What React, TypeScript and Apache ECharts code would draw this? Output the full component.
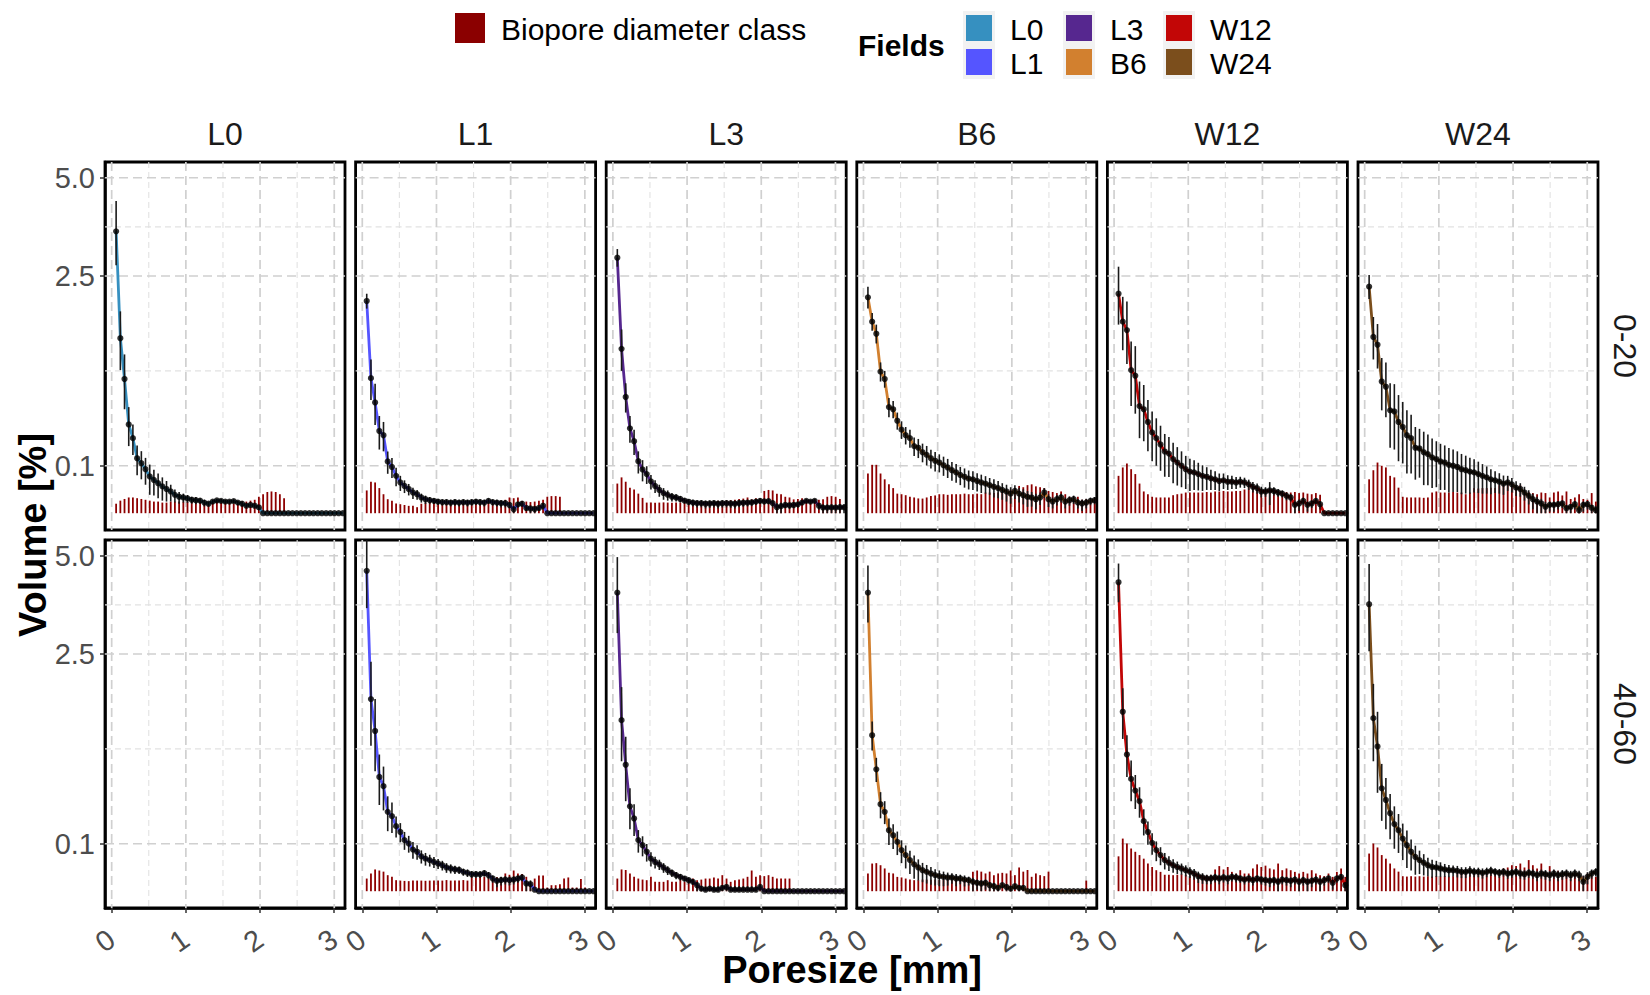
import React, { useEffect, useRef } from "react";
import * as echarts from "echarts";

// ---------- categories / ticks ----------
const fields = ["L0", "L1", "L3", "B6", "W12", "W24"];
const depths = ["0-20", "40-60"];
const fieldColors = ["#3690C0", "#5555FF", "#56278F", "#D2802F", "#C20606", "#7B4E1C"];
const yMajorBreaks = [0.1, 2.5, 5.0];
const xMajorBreaks = [0, 1, 2, 3];
const xMinorBreaks = [0.5, 1.5, 2.5];

// pore size classes [mm]
const poreSize = [
  0.060, 0.117, 0.173, 0.230, 0.286, 0.343, 0.400, 0.456, 0.513, 0.569,
  0.626, 0.683, 0.739, 0.796, 0.852, 0.909, 0.966, 1.022, 1.079, 1.135,
  1.192, 1.249, 1.305, 1.362, 1.418, 1.475, 1.532, 1.588, 1.645, 1.701,
  1.758, 1.815, 1.871, 1.928, 1.984, 2.041, 2.098, 2.154, 2.211, 2.267,
  2.324, 2.381, 2.437, 2.494, 2.550, 2.607, 2.664, 2.720, 2.777, 2.833,
  2.890, 2.947, 3.003, 3.060, 3.116,
];

// ---------- depth 0-20 ----------
const meanL0_0_20 = [
  3.53, 1.36, 0.80, 0.35, 0.25, 0.134, 0.111, 0.086, 0.060, 0.049,
  0.040, 0.032, 0.026, 0.021, 0.015, 0.012, 0.011, 0.0097, 0.008, 0.0075,
  0.007, 0.005, 0.004, 0.006, 0.0072, 0.0068, 0.006, 0.006, 0.0065, 0.005,
  0.004, 0.0025, 0.003, 0.0025, 0.0015, 0, 0, 0, 0, 0,
  0, 0, 0, 0, 0, 0, 0, 0, 0, 0,
  0, 0, 0, 0, 0,
];
const errL0_0_20 = [
  0.8, 0.45, 0.32, 0.15, 0.1, 0.07, 0.06, 0.05, 0.045, 0.035,
  0.03, 0.025, 0.02, 0.015, 0.01, 0.008, 0.006, 0.005, 0.004, 0.004,
  0.003, 0.003, 0.002, 0.002, 0.002, 0.002, 0.002, 0.002, 0.002, 0.002,
  0.002, 0.001, 0.001, 0.001, 0.001, 0, 0, 0, 0, 0,
  0, 0, 0, 0, 0, 0, 0, 0, 0, 0,
  0, 0, 0, 0, 0,
];
const bioL0_0_20 = [
  0.004, 0.007, 0.009, 0.011, 0.011, 0.01, 0.009, 0.008, 0.007, 0.006,
  0.006, 0.005, 0.005, 0.006, 0.006, 0.006, 0.006, 0.006, 0.006, 0.005,
  0.006, 0.006, 0.005, 0.005, 0.006, 0.005, 0.006, 0.005, 0.004, 0.005,
  0.006, 0.006, 0.007, 0.008, 0.012, 0.016, 0.02, 0.021, 0.02, 0.016,
  0.01, 0, 0, 0, 0, 0, 0, 0, 0, 0,
  0, 0, 0, 0, 0,
];

const meanL1_0_20 = [
  2.0, 0.81, 0.545, 0.3, 0.27, 0.119, 0.095, 0.062, 0.042, 0.033,
  0.026, 0.019, 0.016, 0.011, 0.0087, 0.0076, 0.0068, 0.006, 0.0055, 0.0055,
  0.005, 0.0055, 0.005, 0.0055, 0.005, 0.0055, 0.006, 0.0055, 0.005, 0.0068,
  0.0055, 0.005, 0.0045, 0.0045, 0.003, 0.0007, 0.0035, 0.004, 0.0012, 0.001,
  0.0008, 0.0012, 0.0025, 0, 0, 0, 0, 0, 0, 0,
  0, 0, 0, 0, 0,
];
const errL1_0_20 = [
  0.14, 0.24, 0.2, 0.12, 0.1, 0.05, 0.04, 0.03, 0.02, 0.015,
  0.012, 0.01, 0.008, 0.006, 0.005, 0.004, 0.003, 0.003, 0.003, 0.003,
  0.003, 0.003, 0.003, 0.003, 0.003, 0.003, 0.003, 0.003, 0.003, 0.003,
  0.003, 0.003, 0.003, 0.003, 0.002, 0.001, 0.002, 0.002, 0.001, 0.001,
  0.001, 0.001, 0.002, 0, 0, 0, 0, 0, 0, 0,
  0, 0, 0, 0, 0,
];
const bioL1_0_20 = [
  0.023, 0.044, 0.042, 0.028, 0.016, 0.0087, 0.0068, 0.0042, 0.0036, 0.003,
  0.0024, 0.0024, 0.0016, 0.004, 0.005, 0.006, 0.006, 0.0055, 0.006, 0.006,
  0.0055, 0.006, 0.006, 0.0055, 0.006, 0.006, 0.0065, 0.006, 0.0065, 0.0065,
  0.007, 0.0065, 0.007, 0.008, 0.011, 0.01, 0.011, 0.0065, 0.006, 0.0055,
  0.006, 0.007, 0.008, 0.012, 0.013, 0.013, 0.012, 0, 0, 0,
  0, 0, 0, 0, 0,
];

const meanL3_0_20 = [
  2.9, 1.2, 0.6, 0.32, 0.23, 0.12, 0.085, 0.068, 0.045, 0.033,
  0.024, 0.018, 0.015, 0.012, 0.011, 0.009, 0.007, 0.0058, 0.005, 0.0045,
  0.0045, 0.004, 0.0042, 0.0045, 0.004, 0.0044, 0.0045, 0.0042, 0.004, 0.0046,
  0.0048, 0.005, 0.0052, 0.006, 0.0068, 0.0062, 0.0065, 0.0045, 0.0016, 0.0022,
  0.003, 0.0028, 0.003, 0.0035, 0.005, 0.0068, 0.006, 0.0068, 0.0025, 0.0014,
  0.0014, 0.0015, 0.0014, 0.0016, 0.0015,
];
const errL3_0_20 = [
  0.2, 0.3, 0.15, 0.1, 0.08, 0.05, 0.04, 0.03, 0.02, 0.015,
  0.012, 0.01, 0.008, 0.006, 0.005, 0.004, 0.003, 0.003, 0.003, 0.003,
  0.003, 0.003, 0.003, 0.003, 0.003, 0.003, 0.003, 0.003, 0.003, 0.003,
  0.003, 0.003, 0.003, 0.003, 0.003, 0.003, 0.003, 0.003, 0.003, 0.003,
  0.002, 0.002, 0.002, 0.002, 0.002, 0.002, 0.002, 0.002, 0.002, 0.002,
  0.002, 0.002, 0.002, 0.002, 0.002,
];
const bioL3_0_20 = [
  0.039, 0.057, 0.044, 0.029, 0.025, 0.017, 0.0104, 0.005, 0.005, 0.0048,
  0.005, 0.0052, 0.005, 0.0048, 0.005, 0.005, 0.005, 0.0055, 0.006, 0.0062,
  0.006, 0.0065, 0.006, 0.0065, 0.007, 0.0065, 0.007, 0.0075, 0.008, 0.009,
  0.0095, 0.011, 0.0085, 0.01, 0.0095, 0.022, 0.024, 0.023, 0.017, 0.016,
  0.012, 0.011, 0.0085, 0.009, 0.01, 0.0085, 0.0075, 0.009, 0.008, 0.0085,
  0.012, 0.013, 0.012, 0.009, 0,
];

const meanB6_0_20 = [
  2.07, 1.63, 1.43, 0.89, 0.80, 0.50, 0.48, 0.38, 0.31, 0.27,
  0.25, 0.20, 0.19, 0.165, 0.151, 0.134, 0.122, 0.114, 0.102, 0.093,
  0.082, 0.074, 0.065, 0.059, 0.053, 0.051, 0.046, 0.042, 0.039, 0.035,
  0.031, 0.028, 0.024, 0.021, 0.017, 0.022, 0.017, 0.0144, 0.0118, 0.0109,
  0.0087, 0.0109, 0.019, 0.0087, 0.006, 0.0087, 0.011, 0.006, 0.0075, 0.0087,
  0.005, 0.0042, 0.005, 0.0068, 0.0075,
];
const errB6_0_20 = [
  0.21, 0.15, 0.15, 0.12, 0.1, 0.09, 0.08, 0.07, 0.065, 0.06,
  0.06, 0.055, 0.055, 0.05, 0.05, 0.045, 0.045, 0.04, 0.04, 0.038,
  0.035, 0.033, 0.03, 0.03, 0.028, 0.027, 0.025, 0.024, 0.022, 0.02,
  0.02, 0.018, 0.016, 0.015, 0.013, 0.013, 0.012, 0.011, 0.01, 0.009,
  0.008, 0.008, 0.009, 0.007, 0.005, 0.006, 0.006, 0.005, 0.005, 0.005,
  0.004, 0.004, 0.004, 0.004, 0.004,
];
const bioB6_0_20 = [
  0.07, 0.104, 0.104, 0.07, 0.051, 0.037, 0.028, 0.017, 0.016, 0.0144,
  0.012, 0.011, 0.0097, 0.0095, 0.011, 0.013, 0.014, 0.016, 0.016, 0.015,
  0.016, 0.016, 0.016, 0.017, 0.016, 0.016, 0.017, 0.016, 0.019, 0.019,
  0.018, 0.019, 0.02, 0.022, 0.025, 0.028, 0.033, 0.03, 0.035, 0.037,
  0.032, 0.03, 0.028, 0.022, 0.02, 0.018, 0.021, 0.016, 0.012, 0.01,
  0.012, 0.008, 0.009, 0.006, 0.01,
];

const meanW12_0_20 = [
  2.14, 1.63, 1.49, 0.91, 0.84, 0.51, 0.48, 0.37, 0.29, 0.25,
  0.21, 0.169, 0.158, 0.13, 0.114, 0.1, 0.086, 0.077, 0.074, 0.068,
  0.062, 0.059, 0.054, 0.051, 0.046, 0.048, 0.044, 0.044, 0.042, 0.044,
  0.042, 0.037, 0.031, 0.028, 0.021, 0.021, 0.023, 0.022, 0.019, 0.017,
  0.0134, 0.011, 0.0031, 0.0042, 0.0068, 0.0031, 0.0042, 0.0068, 0.0036, 0,
  0, 0, 0, 0, 0,
];
const errW12_0_20 = [
  0.56, 0.45, 0.5, 0.4, 0.4, 0.26, 0.25, 0.2, 0.17, 0.15,
  0.13, 0.11, 0.1, 0.09, 0.08, 0.07, 0.06, 0.055, 0.05, 0.045,
  0.04, 0.035, 0.03, 0.027, 0.024, 0.022, 0.02, 0.018, 0.016, 0.015,
  0.014, 0.013, 0.012, 0.011, 0.01, 0.009, 0.02, 0.008, 0.007, 0.006,
  0.006, 0.005, 0.004, 0.004, 0.004, 0.003, 0.003, 0.003, 0.003, 0,
  0, 0, 0, 0, 0,
];
const bioW12_0_20 = [
  0.062, 0.093, 0.11, 0.086, 0.068, 0.039, 0.021, 0.016, 0.012, 0.011,
  0.011, 0.011, 0.011, 0.0144, 0.016, 0.017, 0.019, 0.019, 0.019, 0.019,
  0.019, 0.02, 0.019, 0.021, 0.021, 0.022, 0.021, 0.021, 0.022, 0.022,
  0.025, 0.033, 0.03, 0.024, 0.022, 0.021, 0.022, 0.021, 0.022, 0.021,
  0.02, 0.019, 0.02, 0.018, 0.019, 0.017, 0.016, 0.018, 0.015, 0,
  0, 0, 0, 0, 0,
];

const meanW24_0_20 = [
  2.28, 1.38, 1.26, 0.77, 0.71, 0.47, 0.46, 0.37, 0.33, 0.27,
  0.25, 0.19, 0.186, 0.165, 0.155, 0.138, 0.13, 0.119, 0.114, 0.104,
  0.1, 0.095, 0.086, 0.082, 0.077, 0.074, 0.068, 0.062, 0.057, 0.051,
  0.048, 0.044, 0.039, 0.042, 0.037, 0.029, 0.026, 0.019, 0.0134, 0.0087,
  0.006, 0.0042, 0.0018, 0.0031, 0.0031, 0.0036, 0.0042, 0.0011, 0.0018, 0.0036,
  0.0004, 0.0031, 0.0036, 0.0013, 0.0004,
];
const errW24_0_20 = [
  0.24, 0.33, 0.33, 0.3, 0.3, 0.28, 0.28, 0.25, 0.22, 0.2,
  0.18, 0.14, 0.13, 0.13, 0.12, 0.11, 0.1, 0.095, 0.09, 0.085,
  0.08, 0.075, 0.07, 0.065, 0.06, 0.055, 0.05, 0.045, 0.04, 0.035,
  0.03, 0.027, 0.024, 0.02, 0.018, 0.016, 0.014, 0.012, 0.01, 0.008,
  0.006, 0.005, 0.004, 0.003, 0.003, 0.003, 0.003, 0.002, 0.002, 0.003,
  0.002, 0.003, 0.003, 0.002, 0.002,
];
const bioW24_0_20 = [
  0.051, 0.082, 0.114, 0.1, 0.093, 0.062, 0.057, 0.029, 0.012, 0.011,
  0.011, 0.011, 0.011, 0.0105, 0.011, 0.019, 0.021, 0.019, 0.019, 0.019,
  0.02, 0.019, 0.019, 0.016, 0.019, 0.028, 0.027, 0.028, 0.028, 0.029,
  0.028, 0.035, 0.034, 0.036, 0.035, 0.033, 0.035, 0.022, 0.02, 0.018,
  0.016, 0.019, 0.018, 0.011, 0.019, 0.021, 0.014, 0.021, 0.009, 0.011,
  0.016, 0.009, 0.008, 0.018, 0.006,
];

// ---------- depth 40-60 (no L0 data) ----------
const meanL1_40_60 = [
  4.56, 1.64, 1.14, 0.58, 0.49, 0.28, 0.25, 0.188, 0.156, 0.116,
  0.101, 0.077, 0.069, 0.054, 0.047, 0.043, 0.038, 0.034, 0.030, 0.025,
  0.023, 0.021, 0.020, 0.0166, 0.015, 0.0128, 0.0128, 0.0126, 0.0144, 0.0114,
  0.0071, 0.0047, 0.0054, 0.006, 0.0055, 0.006, 0.0071, 0.0084, 0.0026, 0.0022,
  0.0001, 0, 0, 0, 0, 0, 0, 0, 0, 0,
  0, 0, 0, 0, 0,
];
const errL1_40_60 = [
  1.0, 0.7, 0.5, 0.25, 0.2, 0.12, 0.1, 0.06, 0.05, 0.04,
  0.035, 0.03, 0.025, 0.02, 0.018, 0.016, 0.014, 0.012, 0.011, 0.01,
  0.009, 0.008, 0.007, 0.006, 0.006, 0.005, 0.005, 0.005, 0.005, 0.005,
  0.004, 0.004, 0.004, 0.004, 0.004, 0.004, 0.004, 0.004, 0.003, 0.003,
  0, 0, 0, 0, 0, 0, 0, 0, 0, 0,
  0, 0, 0, 0, 0,
];
const bioL1_40_60 = [
  0.0071, 0.0139, 0.021, 0.019, 0.017, 0.0114, 0.0092, 0.0054, 0.005, 0.0047,
  0.0045, 0.005, 0.005, 0.005, 0.0048, 0.005, 0.005, 0.0052, 0.005, 0.0055,
  0.005, 0.005, 0.0052, 0.0055, 0.005, 0.0092, 0.008, 0.0092, 0.009, 0.0085,
  0.0092, 0.009, 0.0088, 0.014, 0.012, 0.019, 0.014, 0.013, 0.0092, 0.0035,
  0.0071, 0.011, 0.011, 0.0006, 0.0016, 0.0016, 0.0022, 0.0071, 0.0084, 0.0006,
  0.0006, 0.0065, 0.0006, 0, 0,
];

const meanL3_40_60 = [
  3.96, 1.3, 0.71, 0.32, 0.235, 0.116, 0.094, 0.069, 0.047, 0.038,
  0.032, 0.025, 0.0196, 0.015, 0.0114, 0.0091, 0.0071, 0.0054, 0.0039, 0.0016,
  0.0003, 0.0001, 0.0003, 0.0001, 0.0001, 0.0005, 0.0008, 0.0001, 0.0001, 0.0001,
  0.0001, 0.0001, 0.0001, 0.0001, 0.0008, 0, 0, 0, 0, 0,
  0, 0, 0, 0, 0, 0, 0, 0, 0, 0,
  0, 0, 0, 0, 0,
];
const errL3_40_60 = [
  1.0, 0.55, 0.35, 0.15, 0.1, 0.05, 0.04, 0.03, 0.02, 0.015,
  0.012, 0.01, 0.008, 0.006, 0.005, 0.004, 0.003, 0.003, 0.002, 0.002,
  0.001, 0.001, 0.001, 0.001, 0.001, 0.001, 0.001, 0.001, 0.001, 0.001,
  0.001, 0.001, 0.001, 0.001, 0.001, 0, 0, 0, 0, 0,
  0, 0, 0, 0, 0, 0, 0, 0, 0, 0,
  0, 0, 0, 0, 0,
];
const bioL3_40_60 = [
  0.0071, 0.021, 0.02, 0.014, 0.0092, 0.0071, 0.006, 0.0054, 0.0092, 0.0039,
  0.0039, 0.0039, 0.0054, 0.0039, 0.0039, 0.006, 0.0039, 0.006, 0.0071, 0.0054,
  0.006, 0.0071, 0.0071, 0.0084, 0.0071, 0.0114, 0.0071, 0.0039, 0.0054, 0.006,
  0.0071, 0.0092, 0.019, 0.0092, 0.0114, 0.0101, 0.0114, 0.0092, 0.0071, 0.0071,
  0.0071, 0.0071, 0, 0, 0, 0, 0, 0, 0, 0,
  0, 0, 0, 0, 0,
];

const meanB6_40_60 = [
  3.96, 1.08, 0.66, 0.336, 0.28, 0.165, 0.139, 0.108, 0.075, 0.058,
  0.043, 0.032, 0.025, 0.0196, 0.0166, 0.0139, 0.0114, 0.0101, 0.0091, 0.0084,
  0.0084, 0.0071, 0.0071, 0.006, 0.0054, 0.0039, 0.0031, 0.0026, 0.0031, 0.0016,
  0.0011, 0.0005, 0.0016, 0.0008, 0.0003, 0.0011, 0.0005, 0.0005, 0, 0,
  0, 0, 0, 0, 0, 0, 0, 0, 0, 0,
  0, 0, 0, 0, 0,
];
const errB6_40_60 = [
  0.75, 0.2, 0.13, 0.1, 0.08, 0.07, 0.06, 0.05, 0.04, 0.035,
  0.03, 0.025, 0.02, 0.016, 0.014, 0.012, 0.01, 0.009, 0.008, 0.007,
  0.006, 0.006, 0.005, 0.005, 0.004, 0.004, 0.003, 0.003, 0.003, 0.002,
  0.002, 0.001, 0.001, 0.001, 0.001, 0.001, 0.001, 0.001, 0, 0,
  0, 0, 0, 0, 0, 0, 0, 0, 0, 0,
  0, 0, 0, 0, 0,
];
const bioB6_40_60 = [
  0.014, 0.034, 0.035, 0.03, 0.023, 0.015, 0.014, 0.0091, 0.0084, 0.0071,
  0.006, 0.0054, 0.0054, 0.006, 0.006, 0.0058, 0.006, 0.0055, 0.006, 0.006,
  0.0058, 0.006, 0.006, 0.0055, 0.006, 0.017, 0.019, 0.017, 0.014, 0.017,
  0.0114, 0.014, 0.015, 0.014, 0.019, 0.0114, 0.025, 0.017, 0.02, 0.0092,
  0.014, 0.0114, 0.0101, 0.017, 0, 0, 0, 0, 0, 0,
  0, 0, 0.005, 0, 0,
];

const meanW12_40_60 = [
  4.24, 1.43, 0.83, 0.56, 0.45, 0.36, 0.218, 0.156, 0.104, 0.075,
  0.058, 0.043, 0.036, 0.030, 0.026, 0.023, 0.0196, 0.0166, 0.0139, 0.01,
  0.0084, 0.0071, 0.0071, 0.0084, 0.0071, 0.0084, 0.0071, 0.0091, 0.0084, 0.0071,
  0.006, 0.0071, 0.0054, 0.0071, 0.006, 0.0054, 0.0047, 0.0054, 0.0039, 0.006,
  0.0054, 0.0047, 0.006, 0.0039, 0.0054, 0.0039, 0.0047, 0.006, 0.0039, 0.0054,
  0.0071, 0.0031, 0.0071, 0.0091, 0.0016,
];
const errW12_40_60 = [
  0.53, 0.4, 0.25, 0.2, 0.15, 0.12, 0.08, 0.06, 0.045, 0.035,
  0.028, 0.022, 0.018, 0.015, 0.013, 0.011, 0.01, 0.009, 0.008, 0.007,
  0.006, 0.005, 0.005, 0.005, 0.005, 0.005, 0.005, 0.005, 0.005, 0.004,
  0.004, 0.004, 0.004, 0.004, 0.004, 0.004, 0.004, 0.004, 0.004, 0.004,
  0.004, 0.004, 0.004, 0.004, 0.004, 0.004, 0.004, 0.004, 0.004, 0.004,
  0.004, 0.003, 0.004, 0.004, 0.002,
];
const bioW12_40_60 = [
  0.054, 0.123, 0.101, 0.081, 0.069, 0.058, 0.047, 0.034, 0.026, 0.0196,
  0.0166, 0.012, 0.012, 0.0114, 0.012, 0.0128, 0.012, 0.0114, 0.012, 0.0128,
  0.012, 0.0114, 0.012, 0.021, 0.028, 0.021, 0.026, 0.0166, 0.0139, 0.0196,
  0.0139, 0.0139, 0.023, 0.032, 0.026, 0.029, 0.023, 0.021, 0.034, 0.0196,
  0.023, 0.0196, 0.0166, 0.0139, 0.0166, 0.0139, 0.0196, 0.0139, 0.0114, 0.0101,
  0.0139, 0.0091, 0.0166, 0.023, 0.0091,
];

const meanW24_40_60 = [
  3.66, 1.33, 0.93, 0.47, 0.37, 0.27, 0.20, 0.165, 0.123, 0.094,
  0.069, 0.052, 0.043, 0.036, 0.030, 0.026, 0.025, 0.023, 0.021, 0.0196,
  0.0196, 0.0184, 0.0166, 0.0166, 0.0184, 0.0166, 0.0166, 0.015, 0.0166, 0.0184,
  0.0166, 0.015, 0.0166, 0.0139, 0.015, 0.0166, 0.0139, 0.0128, 0.015, 0.0139,
  0.0114, 0.0139, 0.0128, 0.0114, 0.0139, 0.0114, 0.0128, 0.0139, 0.0114, 0.0139,
  0.0114, 0.0039, 0.0091, 0.0139, 0.0166,
];
const errW24_40_60 = [
  1.1, 0.58, 0.5, 0.25, 0.2, 0.15, 0.12, 0.1, 0.08, 0.07,
  0.05, 0.04, 0.03, 0.025, 0.02, 0.018, 0.016, 0.014, 0.012, 0.011,
  0.01, 0.01, 0.009, 0.009, 0.009, 0.008, 0.008, 0.008, 0.008, 0.008,
  0.007, 0.007, 0.007, 0.007, 0.007, 0.007, 0.007, 0.007, 0.007, 0.007,
  0.007, 0.007, 0.007, 0.007, 0.007, 0.007, 0.007, 0.007, 0.007, 0.007,
  0.007, 0.007, 0.007, 0.007, 0.007,
];
const bioW24_40_60 = [
  0.063, 0.101, 0.085, 0.058, 0.047, 0.034, 0.023, 0.017, 0.01, 0.0095,
  0.01, 0.0095, 0.01, 0.0095, 0.01, 0.0095, 0.01, 0.0095, 0.01, 0.0095,
  0.01, 0.0139, 0.015, 0.0166, 0.015, 0.015, 0.0166, 0.015, 0.015, 0.0166,
  0.015, 0.0196, 0.023, 0.025, 0.03, 0.028, 0.034, 0.025, 0.043, 0.03,
  0.023, 0.034, 0.0166, 0.028, 0.0196, 0.0184, 0.0139, 0.015, 0.0101, 0.0166,
  0.0114, 0.0101, 0.0139, 0.0101, 0.0091,
];

type Panel = { m: number[]; e: number[]; b: number[] } | null;
const panels: Panel[][] = [
  [
    { m: meanL0_0_20, e: errL0_0_20, b: bioL0_0_20 },
    { m: meanL1_0_20, e: errL1_0_20, b: bioL1_0_20 },
    { m: meanL3_0_20, e: errL3_0_20, b: bioL3_0_20 },
    { m: meanB6_0_20, e: errB6_0_20, b: bioB6_0_20 },
    { m: meanW12_0_20, e: errW12_0_20, b: bioW12_0_20 },
    { m: meanW24_0_20, e: errW24_0_20, b: bioW24_0_20 },
  ],
  [
    null,
    { m: meanL1_40_60, e: errL1_40_60, b: bioL1_40_60 },
    { m: meanL3_40_60, e: errL3_40_60, b: bioL3_40_60 },
    { m: meanB6_40_60, e: errB6_40_60, b: bioB6_40_60 },
    { m: meanW12_40_60, e: errW12_40_60, b: bioW12_40_60 },
    { m: meanW24_40_60, e: errW24_40_60, b: bioW24_40_60 },
  ],
];

// ---------- layout / style ----------
const FONT = "'Liberation Sans', Arial, Helvetica, sans-serif";
const PANEL_LEFT0 = 105;
const PANEL_STEP = 250.6;
const PANEL_W = 240;
const PANEL_H = 368;
const PANEL_TOPS = [162, 540];
const X_MIN = -0.09;
const X_MAX = 3.145;
const Y_MIN = -0.112;
const Y_MAX = 2.341;
const BAR_COLOR = "#8E0000";

const SQ = (v: number) => Math.sqrt(Math.max(0, v));

function buildOption() {
  const grid: any[] = [];
  const xAxis: any[] = [];
  const yAxis: any[] = [];
  const series: any[] = [];
  const graphic: any[] = [];

  const yTickVals = yMajorBreaks.map(SQ);
  const yMinor: number[] = [];
  for (let k = 0; k < yTickVals.length - 1; k++) yMinor.push((yTickVals[k] + yTickVals[k + 1]) / 2);

  // gridline items: [xPos, yPos, kind(0=h,1=v), major]
  const gridItems: number[][] = [];
  yMinor.forEach((v) => gridItems.push([1.5, v, 0, 0]));
  xMinorBreaks.forEach((v) => gridItems.push([v, 1.0, 1, 0]));
  yTickVals.forEach((v) => gridItems.push([1.5, v, 0, 1]));
  xMajorBreaks.forEach((v) => gridItems.push([v, 1.0, 1, 1]));

  const gridRender = (params: any, api: any) => {
    const kind = api.value(2);
    const major = api.value(3) === 1;
    const cs = params.coordSys;
    let shape;
    if (kind === 0) {
      const y = api.coord([1, api.value(1)])[1];
      shape = { x1: cs.x, y1: y, x2: cs.x + cs.width, y2: y };
    } else {
      const x = api.coord([api.value(0), 1])[0];
      shape = { x1: x, y1: cs.y, x2: x, y2: cs.y + cs.height };
    }
    return {
      type: "line",
      shape,
      style: {
        stroke: major ? "#D0D0D0" : "#E2E2E2",
        lineWidth: major ? 1.7 : 1.1,
        lineDash: major ? [9, 5] : [6, 4],
      },
    };
  };

  const barRender = (params: any, api: any) => {
    const x = api.value(0);
    const top = api.coord([x, api.value(1)]);
    const base = api.coord([x, 0]);
    return {
      type: "rect",
      shape: { x: top[0] - 0.9, y: top[1], width: 1.8, height: base[1] - top[1] },
      style: { fill: BAR_COLOR },
    };
  };

  const errRender = (params: any, api: any) => {
    const x = api.value(0);
    const p1 = api.coord([x, api.value(1)]);
    const p2 = api.coord([x, api.value(2)]);
    return {
      type: "line",
      shape: { x1: p1[0], y1: p1[1], x2: p2[0], y2: p2[1] },
      style: { stroke: "#1A1A1A", lineWidth: 1.6 },
    };
  };

  for (let r = 0; r < 2; r++) {
    for (let c = 0; c < 6; c++) {
      const g = r * 6 + c;
      const left = PANEL_LEFT0 + c * PANEL_STEP;
      grid.push({
        left,
        top: PANEL_TOPS[r],
        width: PANEL_W,
        height: PANEL_H,
        show: true,
        borderColor: "#000",
        borderWidth: 2.8,
        backgroundColor: "rgba(0,0,0,0)",
      });
      xAxis.push({
        gridIndex: g,
        type: "value",
        min: X_MIN,
        max: X_MAX,
        splitLine: { show: false },
        axisLine: { show: r === 1, onZero: false, lineStyle: { color: "#000", width: 2.5 } },
        axisTick: {
          show: r === 1,
          customValues: xMajorBreaks,
          length: 5,
          lineStyle: { color: "#333", width: 1.5 },
        },
        axisLabel: {
          show: r === 1,
          customValues: xMajorBreaks,
          rotate: 35,
          fontSize: 29,
          fontFamily: FONT,
          color: "#4D4D4D",
          margin: 28,
        },
      });
      yAxis.push({
        gridIndex: g,
        type: "value",
        min: Y_MIN,
        max: Y_MAX,
        splitLine: { show: false },
        axisLine: { show: c === 0, onZero: false, lineStyle: { color: "#000", width: 2.5 } },
        axisTick: {
          show: c === 0,
          customValues: yTickVals,
          length: 5,
          lineStyle: { color: "#333", width: 1.5 },
        },
        axisLabel: {
          show: c === 0,
          customValues: yTickVals,
          formatter: (v: number) => (v * v).toFixed(1),
          fontSize: 29,
          fontFamily: FONT,
          color: "#4D4D4D",
          margin: 10,
        },
      });

      series.push({
        type: "custom",
        xAxisIndex: g,
        yAxisIndex: g,
        silent: true,
        z: 1,
        renderItem: gridRender,
        data: gridItems,
      });

      const pd = panels[r][c];
      if (!pd) continue;
      const color = fieldColors[c];

      series.push({
        type: "custom",
        name: "Biopore diameter class",
        xAxisIndex: g,
        yAxisIndex: g,
        silent: true,
        clip: true,
        z: 2,
        renderItem: barRender,
        data: poreSize.map((x, i) => [x, SQ(pd.b[i])]).filter((d) => d[1] > 0),
      });
      series.push({
        type: "line",
        name: fields[c],
        xAxisIndex: g,
        yAxisIndex: g,
        silent: true,
        z: 3,
        symbol: "none",
        showSymbol: false,
        lineStyle: { color, width: 2.8 },
        data: poreSize.map((x, i) => [x, SQ(pd.m[i])]),
      });
      series.push({
        type: "custom",
        xAxisIndex: g,
        yAxisIndex: g,
        silent: true,
        clip: true,
        z: 4,
        encode: { x: 0, y: [1, 2] },
        renderItem: errRender,
        data: poreSize
          .map((x, i) => [x, SQ(pd.m[i] - pd.e[i]), SQ(pd.m[i] + pd.e[i]), pd.e[i]])
          .filter((d) => d[3] > 0),
      });
      series.push({
        type: "scatter",
        xAxisIndex: g,
        yAxisIndex: g,
        silent: true,
        z: 5,
        symbol: "circle",
        symbolSize: 6.2,
        itemStyle: { color: "#000" },
        data: poreSize.map((x, i) => [x, SQ(pd.m[i])]),
      });
    }
  }

  // strip labels (top)
  fields.forEach((f, c) => {
    graphic.push({
      type: "text",
      x: PANEL_LEFT0 + c * PANEL_STEP + PANEL_W / 2,
      y: 134,
      style: { text: f, fontSize: 32, fontFamily: FONT, fill: "#1A1A1A", align: "center", verticalAlign: "middle" },
    });
  });
  // strip labels (right)
  depths.forEach((d, r) => {
    graphic.push({
      type: "text",
      x: 1625,
      y: PANEL_TOPS[r] + PANEL_H / 2,
      rotation: -Math.PI / 2,
      style: { text: d, fontSize: 32, fontFamily: FONT, fill: "#1A1A1A", align: "center", verticalAlign: "middle" },
    });
  });
  // axis titles
  graphic.push({
    type: "text",
    x: 852,
    y: 970,
    style: {
      text: "Poresize [mm]",
      fontSize: 38,
      fontWeight: "bold",
      fontFamily: FONT,
      fill: "#000",
      align: "center",
      verticalAlign: "middle",
    },
  });
  graphic.push({
    type: "text",
    x: 33,
    y: 535,
    rotation: Math.PI / 2,
    style: {
      text: "Volume [%]",
      fontSize: 38,
      fontWeight: "bold",
      fontFamily: FONT,
      fill: "#000",
      align: "center",
      verticalAlign: "middle",
    },
  });

  // legend: biopore
  graphic.push({ type: "rect", shape: { x: 455, y: 13, width: 30, height: 30 }, style: { fill: "#8B0000" } });
  graphic.push({
    type: "text",
    x: 501,
    y: 29,
    style: {
      text: "Biopore diameter class",
      fontSize: 30,
      fontFamily: FONT,
      fill: "#000",
      align: "left",
      verticalAlign: "middle",
    },
  });
  // legend: fields
  graphic.push({
    type: "text",
    x: 858,
    y: 45,
    style: {
      text: "Fields",
      fontSize: 30,
      fontWeight: "bold",
      fontFamily: FONT,
      fill: "#000",
      align: "left",
      verticalAlign: "middle",
    },
  });
  fields.forEach((f, k) => {
    const col = Math.floor(k / 2);
    const row = k % 2;
    const kx = 965 + col * 100;
    const ky = 28 + row * 34;
    graphic.push({ type: "rect", shape: { x: kx - 2, y: ky - 17, width: 32, height: 34 }, style: { fill: "#F2F2F2" } });
    graphic.push({ type: "rect", shape: { x: kx + 1, y: ky - 13, width: 26, height: 26 }, style: { fill: fieldColors[k] } });
    graphic.push({
      type: "text",
      x: kx + 45,
      y: ky + 1,
      style: { text: f, fontSize: 30, fontFamily: FONT, fill: "#000", align: "left", verticalAlign: "middle" },
    });
  });

  return {
    animation: false,
    backgroundColor: "#FFFFFF",
    grid,
    xAxis,
    yAxis,
    series,
    graphic,
  };
}

export default function App() {
  const ref = useRef<HTMLDivElement>(null);
  useEffect(() => {
    if (!ref.current) return;
    const chart = echarts.init(ref.current, undefined, { renderer: "svg" });
    chart.setOption(buildOption() as any);
    return () => chart.dispose();
  }, []);
  return (
    <div
      ref={ref}
      style={{ position: "fixed", left: 0, top: 0, width: 1650, height: 995, background: "#fff" }}
    />
  );
}
